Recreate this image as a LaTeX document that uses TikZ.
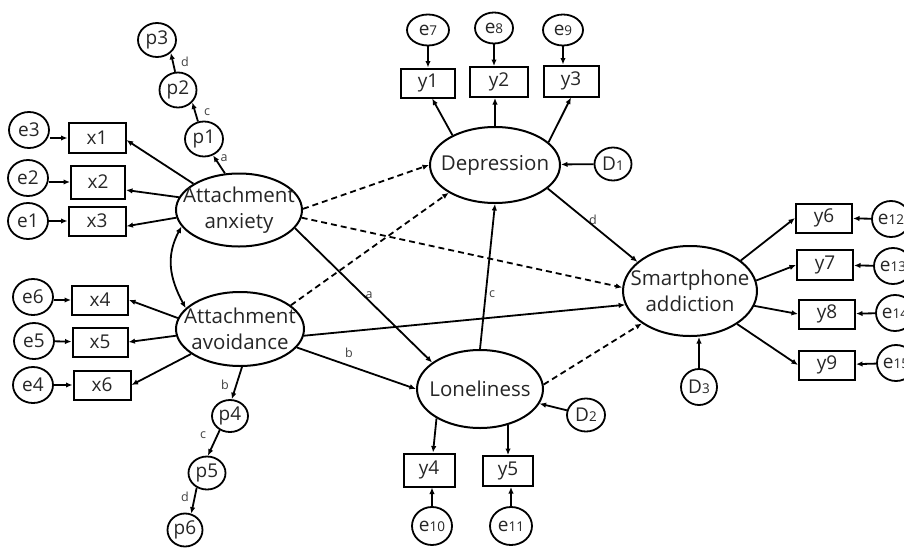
\documentclass[tikz,border=0pt]{standalone}
\usepackage{fontspec}
\setmainfont{Open Sans}
\usetikzlibrary{shapes.geometric,arrows.meta}
\tikzset{
  txt/.style={text=black!85},
  lat/.style={draw, ellipse, line width=2pt, inner xsep=-20pt, inner ysep=-8pt, align=center, txt, font=\fontsize{20.5}{26}\selectfont},
  obs/.style={draw, rectangle, line width=2pt, minimum width=56pt, minimum height=30pt, inner sep=0pt, txt, font=\fontsize{19}{21}\selectfont},
  err/.style={draw, ellipse, line width=1.8pt, minimum width=40pt, minimum height=36pt, inner sep=0pt, txt, font=\fontsize{19}{21}\selectfont},
  lbl/.style={font=\fontsize{12.5}{13}\selectfont, text=black!75, inner sep=0pt},
  arr/.style={line width=1.8pt, -{Latex[length=6.5pt,width=5.5pt]}},
  darr/.style={arr, dash pattern=on 6pt off 4pt},
  barr/.style={line width=1.8pt, {Latex[length=6.5pt,width=5.5pt]}-{Latex[length=6.5pt,width=5.5pt]}},
}
\newcommand{\sml}[1]{{\fontsize{13.5}{13.5}\selectfont #1}}
\begin{document}
\begin{tikzpicture}[x=1pt, y=-1pt]
\useasboundingbox (0,0) rectangle (904,549);
% latent variables
\node[lat, minimum width=126pt, minimum height=73pt] (anx) at (239,210) {Attachment\\anxiety};
\node[lat, minimum width=128pt, minimum height=74pt] (avo) at (240,329) {Attachment\\avoidance};
\node[lat, minimum width=130pt, minimum height=76pt] (dep) at (495,165) {Depression};
\node[lat, minimum width=126pt, minimum height=78pt] (lon) at (480,389) {Loneliness};
\node[lat, minimum width=134pt, minimum height=90pt] (sma) at (690,291) {Smartphone\\addiction};
% observed
\node[obs, minimum width=57pt] (x1) at (97,138) {x1};
\node[obs, minimum width=54pt, minimum height=33pt] (x2) at (98,182) {x2};
\node[obs, minimum width=57pt, minimum height=29pt] (x3) at (97,221) {x3};
\node[obs, minimum height=29pt] (x4) at (100,300) {x4};
\node[obs, minimum width=55pt, minimum height=29pt] (x5) at (100,342) {x5};
\node[obs, minimum width=57pt, minimum height=29pt] (x6) at (102,385) {x6};
\node[obs, minimum width=54pt, minimum height=29pt] (y1) at (428,83) {y1};
\node[obs, minimum width=58pt] (y2) at (499,82) {y2};
\node[obs, minimum width=55pt, minimum height=31pt] (y3) at (571,81) {y3};
\node[obs, minimum width=51pt, minimum height=33pt] (y4) at (429,470) {y4};
\node[obs, minimum width=50pt] (y5) at (508,471) {y5};
\node[obs, minimum height=29pt] (y6) at (824,218) {y6};
\node[obs] (y7) at (825,265) {y7};
\node[obs, minimum height=29pt] (y8) at (827,314) {y8};
\node[obs, minimum height=29pt] (y9) at (827,365) {y9};
% errors
\node[err] (e3) at (29,130) {e3};
\node[err] (e2) at (28,178) {e2};
\node[err] (e1) at (28,221) {e1};
\node[err] (e6) at (33,297) {e6};
\node[err] (e5) at (34,341) {e5};
\node[err] (e4) at (33,385) {e4};
\node[err, minimum width=42pt, minimum height=31pt] (e7) at (428,30) {e\sml{7}};
\node[err, minimum width=38pt, minimum height=31pt] (e8) at (494,28) {e\sml{8}};
\node[err, minimum width=40pt, minimum height=31pt] (e9) at (563,30) {e\sml{9}};
\node[err, minimum height=38pt] (e10) at (432,526) {e\sml{10}};
\node[err, minimum width=42pt, minimum height=38pt] (e11) at (511,526) {e\sml{11}};
\node[err, minimum width=38pt] (e12) at (891,219) {e\sml{12}};
\node[err, minimum width=38pt] (e13) at (893,266) {e\sml{13}};
\node[err, minimum width=38pt] (e14) at (895,313) {e\sml{14}};
\node[err, minimum width=38pt] (e15) at (896,363) {e\sml{15}};
\node[err, minimum width=37pt, minimum height=33pt] (D1) at (613,164) {D\sml{1}};
\node[err, minimum width=38pt, minimum height=33pt] (D2) at (586,415) {D\sml{2}};
\node[err, minimum width=36pt, minimum height=36pt] (D3) at (699,387) {D\sml{3}};
% p nodes
\node[err, minimum width=38pt, minimum height=34pt] (p3) at (157,40) {p3};
\node[err, minimum width=37pt, minimum height=35pt] (p2) at (178,90) {p2};
\node[err, minimum width=38pt, minimum height=35pt] (p1) at (204,139) {p1};
\node[err, minimum width=36pt, minimum height=32pt] (p4) at (230,416) {p4};
\node[err, minimum width=37pt, minimum height=33pt] (p5) at (207,473) {p5};
\node[err, minimum width=35pt, minimum height=33pt] (p6) at (185,530) {p6};
% path labels
\node[lbl] (la1) at (224,158) {a};
\node[lbl] (lc1) at (207,112) {c};
\node[lbl] (ld1) at (185,62) {d};
\node[lbl] (lb2) at (225,385) {b};
\node[lbl] (lc2) at (203,435) {c};
\node[lbl] (ld2) at (185,497) {d};
\node[lbl] (la3) at (369,295) {a};
\node[lbl] (lb3) at (349,353) {b};
\node[lbl] (lc3) at (492,294) {c};
\node[lbl] (ld3) at (593,220) {d};
% anxiety indicators
\draw[arr] (anx.150) -- (x1.-4);
\draw[arr] (anx.168) -- (x2.-16);
\draw[arr] (anx.-173) -- (x3.-10);
\draw[arr] (e3.east |- x1.west) -- (x1.west);
\draw[arr] (e2.east |- x2.west) -- (x2.west);
\draw[arr] (e1) -- (x3);
% avoidance indicators
\draw[arr] (avo.170) -- (x4.east);
\draw[arr] (avo.-174) -- (x5.east);
\draw[arr] (avo.-153) -- (x6.east);
\draw[arr] (e6.east |- x4.west) -- (x4.west);
\draw[arr] (e5) -- (x5);
\draw[arr] (e4) -- (x6);
% p chains
\draw[arr] (anx.111) -- (p1.-61);
\draw[arr] (p1.109) -- (p2.-41);
\draw[arr] (p2.99) -- (p3.-43);
\draw[arr] (avo.-87) -- (p4.84);
\draw[arr] (p4.234) -- (p5.87);
\draw[arr] (p5.235) -- (p6.69);
% covariance
\draw[barr] (anx.196) .. controls +(-16,30) and +(-16,-30) .. (avo.159);
% structural paths
\draw[darr] (anx.1) -- (dep.west);
\draw[darr] (anx.-7) -- (sma.177);
\draw[arr] (anx.-18) -- (lon.151);
\draw[darr] (avo.25) -- (dep.-149);
\draw[arr] (avo.-6) -- (sma.-168);
\draw[arr] (avo.-18) -- (lon.west);
\draw[arr] (lon.north) -- (dep.south);
\draw[arr] (dep.-24) -- (sma.151);
\draw[darr] (lon.4) -- (sma.-146);
\draw[arr] (D1) -- (dep);
\draw[arr] (D2) -- (lon);
\draw[arr] (D3.north) -- (D3.north |- sma.south);
% depression indicators
\draw[arr] (dep.145) -- (y1.-75);
\draw[arr] (dep.north) -- (dep.north |- y2.south);
\draw[arr] (dep.23) -- (y3.south);
\draw[arr] (e7) -- (y1);
\draw[arr] (e8.south) -- (e8.south |- y2.north);
\draw[arr] (e9.south) -- (e9.south |- y3.north);
% loneliness indicators
\draw[arr] (lon.-146) -- (y4.77);
\draw[arr] (lon.-52) -- (y5.north);
\draw[arr] (e10.north) -- (e10.north |- y4.south);
\draw[arr] (e11.north) -- (e11.north |- y5.south);
% smartphone indicators
\draw[arr] (sma.31) -- (y6.west);
\draw[arr] (sma.9) -- (y7.west);
\draw[arr] (sma.-13) -- (y8.west);
\draw[arr] (sma.-35) -- (y9.west);
\draw[arr] (e12) -- (y6);
\draw[arr] (e13) -- (y7);
\draw[arr] (e14) -- (y8);
\draw[arr] (e15) -- (y9);
\end{tikzpicture}
\end{document}
